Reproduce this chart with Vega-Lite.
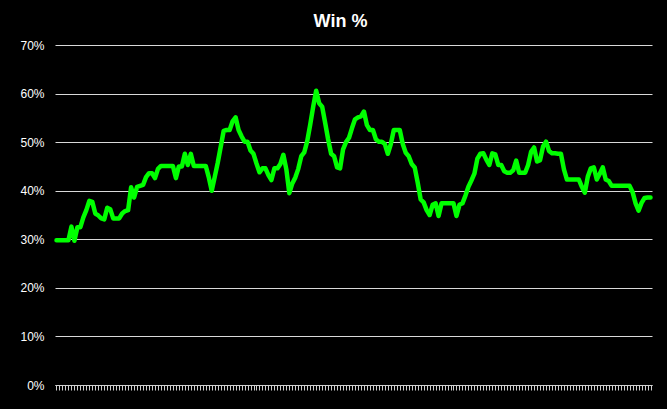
{
  "$schema": "https://vega.github.io/schema/vega-lite/v6.json",
  "autosize": {"type": "none"},
  "padding": {"left": 55, "top": 45, "right": 15, "bottom": 24},
  "width": 597,
  "height": 340,
  "background": "#000000",
  "title": {"text": "Win %", "anchor": "middle", "dx": -13, "offset": 8, "fontSize": 18, "fontWeight": "bold", "color": "#ffffff", "font": "Liberation Sans"},
  "config": {"view": {"stroke": null}},
  "data": {"values": [
    {"game":1,"win":29.8},{"game":2,"win":29.8},{"game":3,"win":29.8},{"game":4,"win":29.8},{"game":5,"win":29.8},
    {"game":6,"win":32.6},{"game":7,"win":29.7},{"game":8,"win":32.5},{"game":9,"win":32.5},{"game":10,"win":34.5},
    {"game":11,"win":36},{"game":12,"win":37.9},{"game":13,"win":37.7},{"game":14,"win":35.3},{"game":15,"win":34.9},
    {"game":16,"win":34.3},{"game":17,"win":34.1},{"game":18,"win":36.5},{"game":19,"win":36.2},{"game":20,"win":34.3},
    {"game":21,"win":34.3},{"game":22,"win":34.3},{"game":23,"win":35.3},{"game":24,"win":35.8},{"game":25,"win":36},
    {"game":26,"win":40.7},{"game":27,"win":38.6},{"game":28,"win":40.8},{"game":29,"win":41},{"game":30,"win":41.2},
    {"game":31,"win":42.8},{"game":32,"win":43.6},{"game":33,"win":43.6},{"game":34,"win":42.6},{"game":35,"win":44.5},
    {"game":36,"win":45.1},{"game":37,"win":45.1},{"game":38,"win":45.1},{"game":39,"win":45.1},{"game":40,"win":45.1},
    {"game":41,"win":42.6},{"game":42,"win":45},{"game":43,"win":45},{"game":44,"win":47.6},{"game":45,"win":45.3},
    {"game":46,"win":47.6},{"game":47,"win":45.1},{"game":48,"win":45.1},{"game":49,"win":45.1},{"game":50,"win":45.1},
    {"game":51,"win":45.1},{"game":52,"win":42.8},{"game":53,"win":40},{"game":54,"win":42.8},{"game":55,"win":45.7},
    {"game":56,"win":49},{"game":57,"win":52.3},{"game":58,"win":52.5},{"game":59,"win":52.5},{"game":60,"win":54.3},
    {"game":61,"win":55.1},{"game":62,"win":52.5},{"game":63,"win":51.2},{"game":64,"win":50.1},{"game":65,"win":50.1},
    {"game":66,"win":48.3},{"game":67,"win":47.6},{"game":68,"win":45.6},{"game":69,"win":43.8},{"game":70,"win":44.6},
    {"game":71,"win":44.6},{"game":72,"win":43.2},{"game":73,"win":42.2},{"game":74,"win":44.6},{"game":75,"win":44.6},
    {"game":76,"win":45.5},{"game":77,"win":47.4},{"game":78,"win":44.4},{"game":79,"win":39.5},{"game":80,"win":41.5},
    {"game":81,"win":42.7},{"game":82,"win":44.5},{"game":83,"win":47.1},{"game":84,"win":47.9},{"game":85,"win":50.2},
    {"game":86,"win":53.6},{"game":87,"win":57.3},{"game":88,"win":60.6},{"game":89,"win":58},{"game":90,"win":57.3},
    {"game":91,"win":54},{"game":92,"win":50.6},{"game":93,"win":47.6},{"game":94,"win":47.1},{"game":95,"win":44.8},
    {"game":96,"win":44.6},{"game":97,"win":48.5},{"game":98,"win":50},{"game":99,"win":50.9},{"game":100,"win":52.9},
    {"game":101,"win":54.7},{"game":102,"win":55.1},{"game":103,"win":55.3},{"game":104,"win":56.3},{"game":105,"win":53.5},
    {"game":106,"win":52.5},{"game":107,"win":52.5},{"game":108,"win":50.6},{"game":109,"win":50.1},{"game":110,"win":50.1},
    {"game":111,"win":49.6},{"game":112,"win":47.6},{"game":113,"win":49.6},{"game":114,"win":52.5},{"game":115,"win":52.5},
    {"game":116,"win":52.5},{"game":117,"win":49.6},{"game":118,"win":47.8},{"game":119,"win":47.1},{"game":120,"win":45.5},
    {"game":121,"win":44.8},{"game":122,"win":41.7},{"game":123,"win":38.2},{"game":124,"win":37.6},{"game":125,"win":36},
    {"game":126,"win":35},{"game":127,"win":37.1},{"game":128,"win":37.4},{"game":129,"win":34.8},{"game":130,"win":37.4},
    {"game":131,"win":37.4},{"game":132,"win":37.4},{"game":133,"win":37.4},{"game":134,"win":37.4},{"game":135,"win":34.8},
    {"game":136,"win":37.1},{"game":137,"win":37.4},{"game":138,"win":39},{"game":139,"win":40.8},{"game":140,"win":42.1},
    {"game":141,"win":43.5},{"game":142,"win":46.6},{"game":143,"win":47.6},{"game":144,"win":47.7},{"game":145,"win":46.4},
    {"game":146,"win":45.3},{"game":147,"win":47.7},{"game":148,"win":47.5},{"game":149,"win":45.3},{"game":150,"win":45.3},
    {"game":151,"win":44},{"game":152,"win":43.7},{"game":153,"win":43.7},{"game":154,"win":44.2},{"game":155,"win":46.2},
    {"game":156,"win":43.7},{"game":157,"win":43.7},{"game":158,"win":43.7},{"game":159,"win":45.3},{"game":160,"win":48},
    {"game":161,"win":48.9},{"game":162,"win":46},{"game":163,"win":46.3},{"game":164,"win":49.1},{"game":165,"win":50.1},
    {"game":166,"win":48.2},{"game":167,"win":47.7},{"game":168,"win":47.7},{"game":169,"win":47.6},{"game":170,"win":47.6},
    {"game":171,"win":44.4},{"game":172,"win":42.3},{"game":173,"win":42.3},{"game":174,"win":42.3},{"game":175,"win":42.3},
    {"game":176,"win":42.3},{"game":177,"win":40.8},{"game":178,"win":39.6},{"game":179,"win":42.9},{"game":180,"win":44.6},
    {"game":181,"win":44.8},{"game":182,"win":42.3},{"game":183,"win":43.5},{"game":184,"win":44.8},{"game":185,"win":42.3},
    {"game":186,"win":42},{"game":187,"win":41},{"game":188,"win":41},{"game":189,"win":41},{"game":190,"win":41},
    {"game":191,"win":41},{"game":192,"win":41},{"game":193,"win":41},{"game":194,"win":39.7},{"game":195,"win":37.4},
    {"game":196,"win":35.9},{"game":197,"win":37.5},{"game":198,"win":38.5},{"game":199,"win":38.6},{"game":200,"win":38.6}
  ]},
  "mark": {"type": "line", "color": "#00ff00", "strokeWidth": 4.5, "strokeJoin": "round", "strokeCap": "round"},
  "encoding": {
    "x": {
      "field": "game", "type": "ordinal", "sort": null,
      "scale": {"type": "point", "padding": 0.5},
      "axis": {"title": null, "labels": false, "grid": false, "domain": true, "domainColor": "#d0d0d0", "domainWidth": 1, "ticks": true, "tickColor": "#d0d0d0", "tickSize": 5, "tickWidth": 1}
    },
    "y": {
      "field": "win", "type": "quantitative",
      "scale": {"domain": [0, 70], "nice": false},
      "axis": {"title": null, "values": [0, 10, 20, 30, 40, 50, 60, 70], "labelExpr": "datum.value + '%'", "grid": true, "gridColor": "#d9d9d9", "gridWidth": 1, "domain": false, "ticks": false, "labelColor": "#ffffff", "labelFontSize": 12, "labelFont": "Liberation Sans", "labelPadding": 11}
    }
  }
}
